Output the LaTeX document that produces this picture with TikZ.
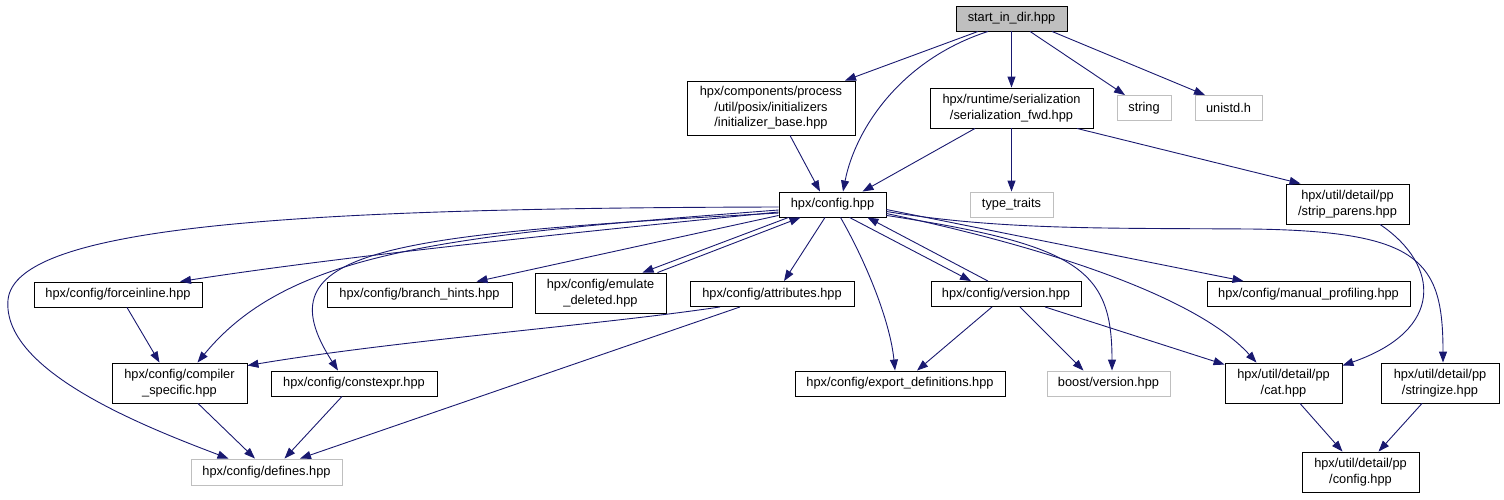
\documentclass[tikz,border=0pt]{standalone}
\usepackage{fontspec}
\setmainfont{Liberation Sans}
\usetikzlibrary{arrows.meta}
\definecolor{edgeblue}{RGB}{25,25,112}
\definecolor{extgray}{RGB}{191,191,191}
\begin{document}
\begin{tikzpicture}[x=1pt,y=-1pt,
  box/.style={draw=black,line width=0.9pt,inner sep=0pt,align=center,
    font=\fontsize{12.8}{15.6}\selectfont},
  ext/.style={box,draw=extgray},
  dep/.style={draw=edgeblue,line width=0.9pt,-{Triangle[length=11pt,width=8pt]},fill=none},
]
\useasboundingbox (0,0) rectangle (1504,499);
% nodes
\node[box,fill=extgray,minimum width=111pt,minimum height=25pt] (start) at (1011.5,18.5) {start\_in\_dir.hpp};
\node[box,minimum width=168pt,minimum height=54pt] (initbase) at (771,108) {hpx/components/process\\/util/posix/initializers\hspace*{28pt}\\/initializer\_base.hpp};
\node[box,minimum width=163pt,minimum height=40pt] (serial) at (1011.5,108) {hpx/runtime/serialization\\/serialization\_fwd.hpp};
\node[ext,minimum width=54pt,minimum height=25pt] (string) at (1144,108) {string};
\node[ext,minimum width=67pt,minimum height=25pt] (unistd) at (1228.5,108) {unistd.h};
\node[box,minimum width=107pt,minimum height=25pt] (config) at (832.5,204.5) {hpx/config.hpp};
\node[ext,minimum width=83pt,minimum height=25pt] (typetraits) at (1011.5,204.5) {type\_traits};
\node[box,minimum width=123pt,minimum height=40pt] (strip) at (1347.5,204) {hpx/util/detail/pp\\/strip\_parens.hpp};
\node[box,minimum width=168pt,minimum height=25pt] (forceinline) at (118,294.5) {hpx/config/forceinline.hpp};
\node[box,minimum width=185pt,minimum height=25pt] (branch) at (419.5,294.5) {hpx/config/branch\_hints.hpp};
\node[box,minimum width=131pt,minimum height=40pt] (emulate) at (600.5,293) {hpx/config/emulate\\\_deleted.hpp};
\node[box,minimum width=164pt,minimum height=25pt] (attributes) at (772,294) {hpx/config/attributes.hpp};
\node[box,minimum width=150pt,minimum height=25pt] (version) at (1006,294) {hpx/config/version.hpp};
\node[box,minimum width=203pt,minimum height=25pt] (manual) at (1308.5,294) {hpx/config/manual\_profiling.hpp};
\node[box,minimum width=135pt,minimum height=40pt] (compiler) at (179.5,383) {hpx/config/compiler\\\_specific.hpp};
\node[box,minimum width=166pt,minimum height=25pt] (constexpr) at (354,383.5) {hpx/config/constexpr.hpp};
\node[box,minimum width=210pt,minimum height=25pt] (export) at (900,383.5) {hpx/config/export\_definitions.hpp};
\node[ext,minimum width=123pt,minimum height=25pt] (boost) at (1108.5,383.5) {boost/version.hpp};
\node[box,minimum width=117pt,minimum height=40pt] (cat) at (1283.5,383) {hpx/util/detail/pp\\/cat.hpp};
\node[box,minimum width=118pt,minimum height=40pt] (stringize) at (1440,383) {hpx/util/detail/pp\\/stringize.hpp};
\node[ext,minimum width=151pt,minimum height=26pt] (defines) at (266.5,472) {hpx/config/defines.hpp};
\node[box,minimum width=117pt,minimum height=40pt] (ppconfig) at (1360.5,472) {hpx/util/detail/pp\\/config.hpp};
% edges from start
\draw[dep] ([xshift=-33.5pt]start.south) -- ([xshift=74pt]initbase.north);
\draw[dep] ([xshift=-23.5pt]start.south) .. controls (900,60) and (855,130) .. ([xshift=10.5pt]config.north);
\draw[dep] (start.south) -- (serial.north);
\draw[dep] ([xshift=18.5pt]start.south) -- ([xshift=-19pt]string.north);
\draw[dep] ([xshift=40.5pt]start.south) -- ([xshift=-23.5pt]unistd.north);
% second level
\draw[dep] ([xshift=19pt]initbase.south) -- ([xshift=-12.5pt]config.north);
\draw[dep] ([xshift=-36.5pt]serial.south) -- ([xshift=30pt]config.north);
\draw[dep] (serial.south) -- (typetraits.north);
\draw[dep] ([xshift=65.5pt]serial.south) -- ([xshift=-47pt]strip.north);
\draw[dep] ([xshift=32.5pt]strip.south) .. controls (1440,265) and (1445,330) .. ([yshift=-3pt]cat.north east);
% from config, right side
\draw[dep] ([yshift=-7pt]config.east) .. controls (1000,230) and (1100,228) .. (1250,229) .. controls (1420,231) and (1443,260) .. ([xshift=3pt]stringize.north);
\draw[dep] ([yshift=-9pt]config.east) .. controls (1060,250) and (1200,300) .. ([xshift=-27pt]cat.north);
\draw[dep] ([yshift=2pt]config.south east) .. controls (1080,245) and (1112,270) .. ([xshift=3.5pt]boost.north);
\draw[dep] ([yshift=-5pt]config.east) -- ([xshift=-65pt]manual.north);
% from config, bottom
\draw[dep] ([xshift=17pt]config.south) -- ([xshift=-35pt]version.north);
\draw[dep] ([xshift=-18pt]version.north) -- ([xshift=35pt]config.south);
\draw[dep] ([xshift=8pt]config.south) .. controls (865,260) and (890,320) .. ([xshift=-5pt]export.north);
\draw[dep] ([xshift=-7.5pt]config.south) -- ([xshift=12pt]attributes.north);
\draw[dep] ([xshift=-44pt]config.south) -- ([xshift=42pt]emulate.north);
\draw[dep] ([xshift=57pt]emulate.north) -- ([xshift=-32pt]config.south);
% from config, left side
\draw[dep] ([yshift=2pt]config.south west) -- ([xshift=57pt]branch.north);
\draw[dep] ([yshift=-7.5pt]config.west) .. controls (600,230) and (350,255) .. ([xshift=62pt]forceinline.north);
\draw[dep] ([yshift=-2.5pt]config.west) .. controls (300,208) and (15,225) .. (8,300) .. controls (2,370) and (140,425) .. ([xshift=-38pt]defines.north);
\draw[dep] ([yshift=-5.5pt]config.west) .. controls (450,235) and (290,250) .. ([xshift=18pt]compiler.north);
\draw[dep] ([yshift=-8.5pt]config.west) .. controls (380,235) and (260,250) .. ([xshift=-16pt]constexpr.north);
% lower levels
\draw[dep] ([xshift=9pt]forceinline.south) -- ([xshift=-20pt]compiler.north);
\draw[dep] ([xshift=-52pt]attributes.south) .. controls (600,325) and (400,340) .. ([yshift=-3pt]compiler.north east);
\draw[dep] ([xshift=-32pt]attributes.south) -- ([xshift=33.5pt]defines.north);
\draw[dep] ([xshift=18.5pt]compiler.south) -- ([xshift=-11.5pt]defines.north);
\draw[dep] ([xshift=-12pt]constexpr.south) -- ([xshift=18pt]defines.north);
\draw[dep] ([xshift=-14pt]version.south) -- ([xshift=17pt]export.north);
\draw[dep] ([xshift=14pt]version.south) -- ([xshift=-25pt]boost.north);
\draw[dep] ([xshift=39pt]version.south) -- ([yshift=-2pt]cat.north west);
\draw[dep] ([xshift=16.5pt]cat.south) -- ([xshift=-18pt]ppconfig.north);
\draw[dep] ([xshift=-18pt]stringize.south) -- ([xshift=18pt]ppconfig.north);
\end{tikzpicture}
\end{document}
